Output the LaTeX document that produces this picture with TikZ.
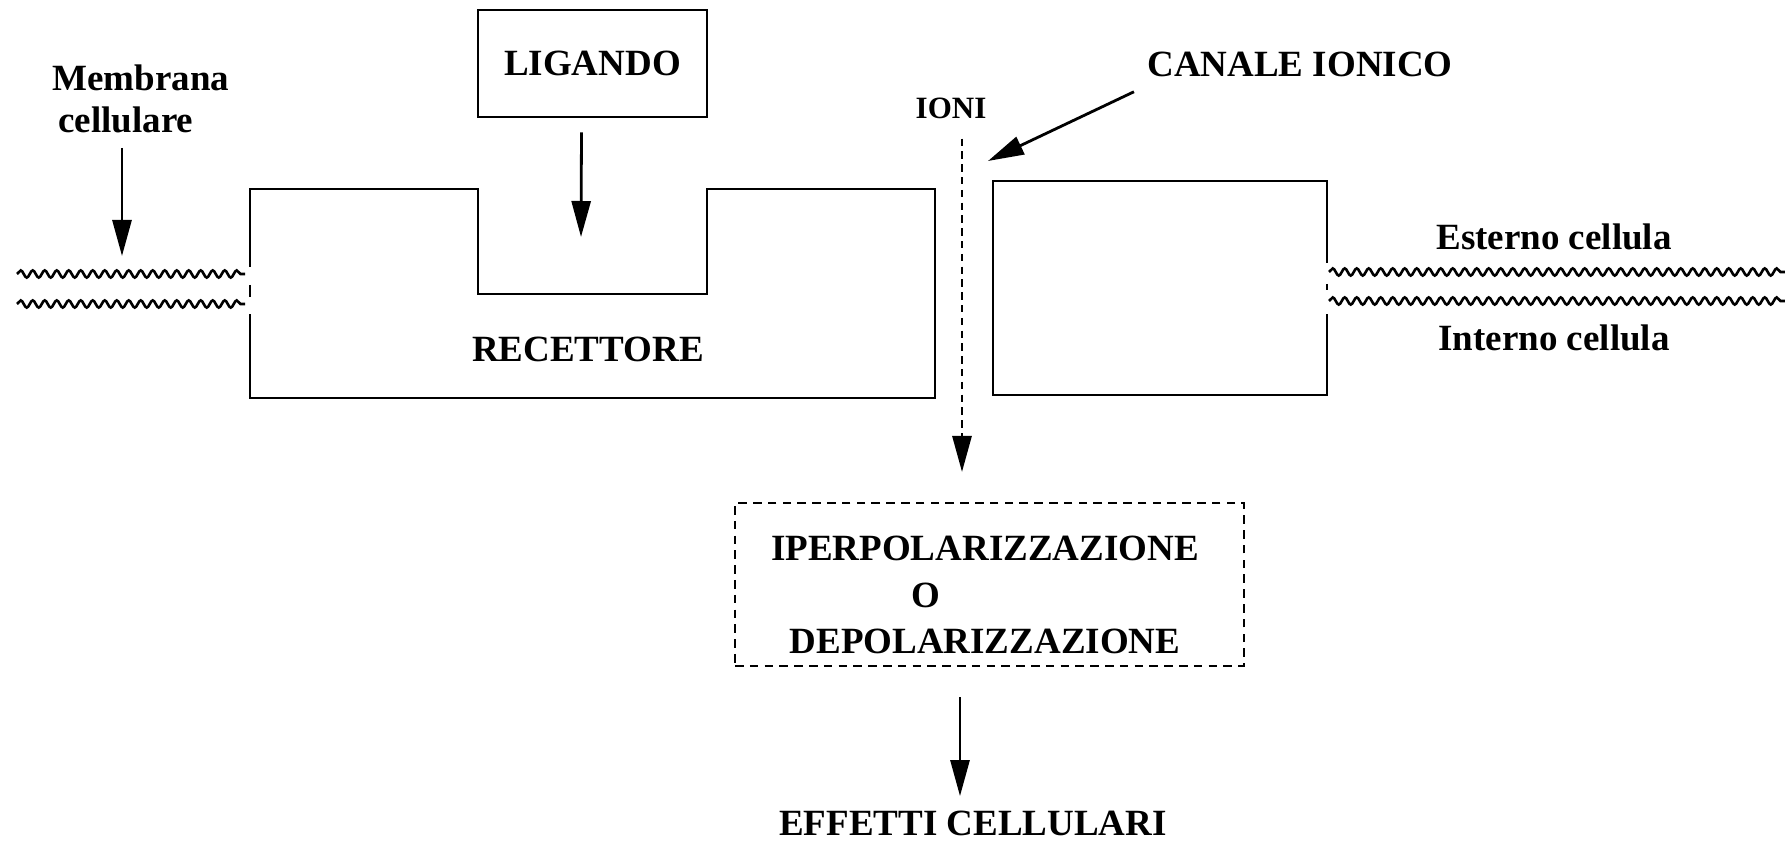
\documentclass[tikz,border=0pt]{standalone}
\usepackage{fontspec}
\setmainfont{Liberation Serif}
\usetikzlibrary{arrows.meta, positioning, decorations.pathmorphing}
\tikzset{
  every picture/.style={line width=1.4pt},
  txt/.style={font=\fontsize{18.5}{18.5}\selectfont\bfseries, inner sep=0pt, align=center},
  smalltxt/.style={font=\fontsize{15.5}{15.5}\selectfont\bfseries, inner sep=0pt},
  box/.style={draw, inner sep=0pt, minimum width=#1},
  arrow/.style={-{Triangle[length=18pt, width=9.5pt]}},
  dasharrow/.style={arrow, dash pattern=on 3.7pt off 2.7pt},
  dashbox/.style={draw, dash pattern=on 4.3pt off 3.1pt, inner sep=0pt},
  membrane/.style={line width=1.3pt, decorate, decoration={snake, segment length=6pt, amplitude=1.8pt}},
}

\begin{document}
\begin{tikzpicture}[x=0.5pt, y=-0.5pt]
  \useasboundingbox (0,0) rectangle (1785,855);
  % membrana (linee ondulate)
  \foreach \y in {274,304} \draw[membrane] (17,\y) -- (245,\y);
  \foreach \y in {272,301} \draw[membrane] (1329,\y) -- (1785,\y);
  % recettore con la tasca per il ligando
  \draw (250,267) -- (250,189) -- (478,189) -- (478,294) -- (707,294) -- (707,189)
    -- (935,189) -- (935,398) -- (250,398) -- (250,314);
  \draw (250,285) -- (250,297);
  % canale ionico
  \draw (1327,263) -- (1327,181) -- (993,181) -- (993,395) -- (1327,395) -- (1327,314);
  \draw (1327,284) -- (1327,290);

  \node[txt, box=114.5pt, minimum height=53.5pt] (lig) at (592.5,63.5) {LIGANDO};
  \node[txt, align=left, anchor=west, font=\fontsize{18.5}{21}\selectfont\bfseries] (memb) at (51,99)
    {Membrana\\\hspace*{3pt}cellulare};
  \node[txt, anchor=base] (rec) at (588,362) {RECETTORE};
  \node[txt, anchor=base] (canale) at (1300,77) {CANALE IONICO};
  \node[smalltxt, anchor=base] (ioni) at (951,119) {IONI};
  \node[txt, anchor=base] (est) at (1554,250) {Esterno cellula};
  \node[txt, anchor=base] (int) at (1554,351) {Interno cellula};
  \node[txt, font=\fontsize{18.5}{23.25}\selectfont\bfseries] (pol) at (985,595)
    {IPERPOLARIZZAZIONE\\O\rule{59pt}{0pt}\\DEPOLARIZZAZIONE};
  \node[dashbox, minimum width=254.5pt, minimum height=81.5pt] (polbox) at (989.5,584.5) {};
  \node[txt, anchor=base] (eff) at (973,835) {EFFETTI CELLULARI};

  \coordinate (memtip) at (122,256);
  \coordinate (ligtip) at (581,237);
  \coordinate (chtip) at (988,161);
  \coordinate (ionitip) at (962,472);

  \draw[arrow] (memtip |- 0,148) -- (memtip);
  \draw[arrow] ([xshift=-5.5pt, yshift=-7pt]lig.south) -- (ligtip);
  \draw[arrow] ([shift={(-6pt,-6.5pt)}]canale.south west) -- (chtip);
  \draw[dasharrow] ([shift={(5.5pt,-9pt)}]ioni.south) -- (ionitip);
  \draw[arrow] ([shift={(-14.75pt,-15pt)}]polbox.south) -- ([shift={(-6.5pt,6.5pt)}]eff.north);
\end{tikzpicture}
\end{document}
